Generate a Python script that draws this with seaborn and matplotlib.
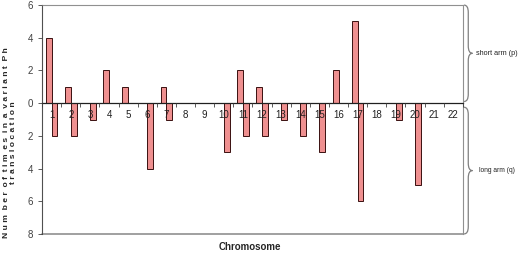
import numpy as np
import pandas as pd
import matplotlib
matplotlib.use("Agg")
import matplotlib.pyplot as plt
import seaborn as sns
from matplotlib.path import Path
from matplotlib.patches import PathPatch
from matplotlib.transforms import blended_transform_factory
from matplotlib.ticker import FuncFormatter

# Chromosome categories and counts per arm
chromosomes = ['1', '2', '3', '4', '5', '6', '7', '8', '9', '10', '11',
               '12', '13', '14', '15', '16', '17', '18', '19', '20', '21', '22']
short_arm_p = [4, 1, 0, 2, 1, 0, 1, 0, 0, 0, 2, 1, 0, 0, 0, 2, 5, 0, 0, 0, 0, 0]
long_arm_q = [2, 2, 1, 0, 0, 4, 1, 0, 0, 3, 2, 2, 1, 2, 3, 0, 6, 0, 1, 5, 0, 0]
y_ticks = [6, 4, 2, 0, -2, -4, -6, -8]

sns.set_style("ticks")
plt.rcParams['font.family'] = ['Liberation Sans', 'DejaVu Sans']

df = pd.DataFrame({
    'Chromosome': chromosomes * 2,
    'value': short_arm_p + [-v for v in long_arm_q],
    'arm': ['p'] * len(chromosomes) + ['q'] * len(chromosomes),
})

fig = plt.figure(figsize=(5.2, 2.54), dpi=100)
ax = fig.add_axes([0.081, 0.079, 0.809, 0.901])

sns.barplot(data=df, x='Chromosome', y='value', hue='arm', order=chromosomes,
            palette={'p': '#FF8080', 'q': '#FF8080'}, width=0.6,
            edgecolor='#3a1010', linewidth=0.7, legend=False, ax=ax)
ax.set_axisbelow(False)

ax.set_ylim(-8, 6)
ax.set_xlim(-0.5, len(chromosomes) - 0.5)
ax.set_yticks(y_ticks)
ax.yaxis.set_major_formatter(FuncFormatter(lambda v, _: f'{abs(v):g}'))
ax.tick_params(axis='y', labelsize=7, colors='#404040', length=3, width=0.6)

# category axis sits on the zero line
ax.spines['bottom'].set_position(('data', 0))
ax.spines['bottom'].set_color('#202020')
ax.spines['bottom'].set_linewidth(0.9)
ax.set_xticks(np.arange(-0.5, len(chromosomes), 1), minor=True)
ax.tick_params(axis='x', which='major', length=0, pad=5, labelsize=7, labelcolor='#202020')
ax.tick_params(axis='x', which='minor', length=3, width=0.6, color='#404040')

for side in ['top', 'right']:
    ax.spines[side].set_visible(True)
    ax.spines[side].set_color('#909090')
    ax.spines[side].set_linewidth(0.8)
ax.spines['left'].set_color('#505050')
ax.spines['left'].set_linewidth(0.8)
ax.axhline(-8, color='#909090', lw=1.2, clip_on=False)

ax.set_xlabel('')
ax.set_ylabel('')
fig.text(0.48, 0.028, 'Chromosome', ha='center', va='center',
         fontsize=7, fontweight='bold')
fig.text(0.019, 0.44, 'N u m  b e r  o f  t i m  e s  i n  a  v a r i a n t  P h\nt r a n s l o c a t i o n',
         rotation=90, ha='center', va='center', fontsize=6.1, fontweight='bold',
         linespacing=1.15)

# curly braces marking the two arms
trans = blended_transform_factory(ax.transAxes, ax.transData)


def brace(y_top, y_bot, x0=1.003, w=0.02, r=0.45):
    xm = x0 + w / 2
    ymid = (y_top + y_bot) / 2
    verts = [(x0, y_top), (xm, y_top), (xm, y_top - r),
             (xm, ymid + r),
             (xm, ymid), (x0 + w, ymid), (x0 + w, ymid),
             (xm, ymid), (xm, ymid - r),
             (xm, y_bot + r),
             (xm, y_bot), (x0, y_bot)]
    codes = [Path.MOVETO, Path.CURVE3, Path.CURVE3,
             Path.LINETO,
             Path.CURVE3, Path.CURVE3, Path.MOVETO,
             Path.CURVE3, Path.CURVE3,
             Path.LINETO,
             Path.CURVE3, Path.CURVE3]
    ax.add_patch(PathPatch(Path(verts, codes), transform=trans, fill=False,
                           edgecolor='#808080', lw=0.9, clip_on=False))
    return x0 + w, ymid


bx, by = brace(6, 0.1)
ax.text(bx + 0.009, by, 'short arm (p)', transform=trans, fontsize=5.2,
        va='center', ha='left', color='#202020')
bx, by = brace(-0.25, -8)
ax.text(bx + 0.016, by, 'long arm (q)', transform=trans, fontsize=4.8,
        va='center', ha='left', color='#202020')

fig.savefig('out.png', dpi=100)
